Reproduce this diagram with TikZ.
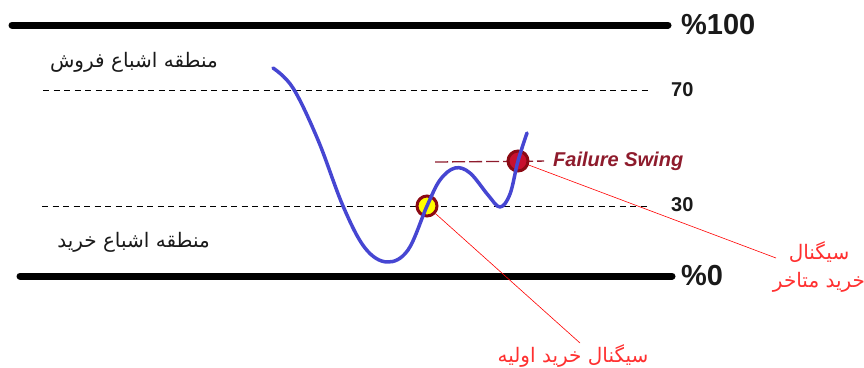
\documentclass[tikz,border=0pt]{standalone}
\usepackage{fontspec}
\setmainfont{Liberation Sans}
\newfontfamily\fafont[Script=Arabic]{DejaVu Sans}
\TeXXeTstate=1
\usetikzlibrary{positioning}
\definecolor{cInk}{HTML}{1A1A1A}
\definecolor{cCurve}{HTML}{4646D2}
\definecolor{cWine}{HTML}{8E1B2C}
\definecolor{cDeep}{HTML}{8B0A14}
\definecolor{cSig}{HTML}{C8102E}
\definecolor{cNote}{HTML}{FF3030}
\definecolor{cGlow}{HTML}{FFFF00}
\tikzset{
  bound/.style = {line width=7pt, line cap=round, draw=black},
  guide/.style = {draw=black, line width=0.8pt, dash pattern=on 6pt off 4.5pt},
  swing/.style = {draw=cWine, line width=1.3pt, dash pattern=on 13pt off 4pt},
  rsi/.style   = {draw=cCurve, line width=3.5pt, line cap=round, line join=round},
  sig/.style   = {circle, draw=cDeep, line width=3pt, minimum size=20pt, inner sep=0pt},
  early/.style = {sig, fill=cGlow},
  late/.style  = {sig, fill=cSig},
  lead/.style  = {draw=red, line width=0.6pt},
  zone/.style  = {font=\fafont\fontsize{20}{24}\selectfont, text=cInk, anchor=east, inner sep=0pt},
  tag/.style   = {font=\fafont\fontsize{20}{28}\selectfont, text=cNote, align=center, inner sep=0pt},
  pct/.style   = {font=\bfseries\fontsize{29}{30}\selectfont, text=cInk, anchor=west, inner sep=0pt},
  lvlno/.style = {font=\bfseries\fontsize{20}{22}\selectfont, text=cInk, anchor=west, inner sep=0pt},
}
\begin{document}
\begin{tikzpicture}[x=1pt, y=-1pt]
  \useasboundingbox (0,0) rectangle (864,367);
  % levels
  \draw[bound] (12,25) -- (668,25);
  \draw[bound] (20,276) -- (672,276);
  \draw[guide] (43,90) -- (652,90);
  \draw[guide] (42,206) -- (650,206);
  \node[pct]   (p100) at (681,25)  {\%100};
  \node[pct]   (p0)   at (681,276) {\%0};
  \node[lvlno] (n70)  at (671,90)  {70};
  \node[lvlno] (n30)  at (671,205) {30};
  \node[zone] (sell) at (218,62)  {\beginR منطقه اشباع فروش\endR};
  \node[zone] (buy)  at (210,242) {\beginR منطقه اشباع خرید\endR};
  % failure swing
  \node[font=\bfseries\itshape\fontsize{20}{22}\selectfont, text=cWine,
        anchor=west, inner sep=0pt] (fs) at (553,161) {Failure Swing};
  \coordinate (fs0) at (435,162);
  \draw[swing, shorten >=9pt] (fs0) -- (fs.west);
  \node[early] (sA) at (427,206) {};
  \node[late]  (sB) at (518,161) {};
  \draw[rsi] plot[smooth, tension=0.6] coordinates {(273,68) (293,88) (318,140)
    (343,206) (365,248) (387,262) (408,250) (427,206) (440,180) (455,168)
    (470,173) (488,195) (500,207) (510,194) (518,161) (527,133)};
  % signals
  \node[tag] (tA) at (573,356) {\beginR سیگنال خرید اولیه\endR};
  \node[tag] (tB) at (819,267) {\beginR سیگنال\endR\\\beginR خرید متاخر\endR};
  \coordinate (eA) at (580,343);
  \coordinate (eB) at (776,258);
  \draw[lead] (sA) -- (eA);
  \draw[lead] (sB) -- (eB);
\end{tikzpicture}
\end{document}
